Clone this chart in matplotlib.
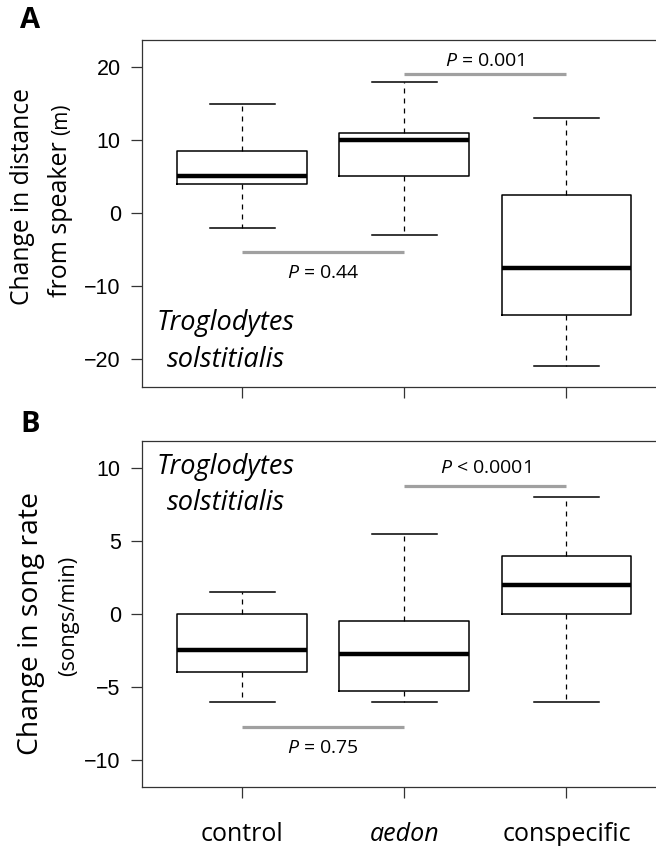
import matplotlib
matplotlib.use("Agg")
import matplotlib.pyplot as plt

# data
groups = ["control", "aedon", "conspecific"]

# panel A: change in distance from speaker (m)
dist_lo = [-2, -3, -21]
dist_q1 = [4, 5, -14]
dist_med = [5, 10, -7.5]
dist_q3 = [8.5, 11, 2.5]
dist_hi = [15, 18, 13]

# panel B: change in song rate (songs/min)
rate_lo = [-6, -6, -6]
rate_q1 = [-4, -5.3, 0]
rate_med = [-2.5, -2.75, 2]
rate_q3 = [0, -0.5, 4]
rate_hi = [1.5, 5.5, 8]

# significance bars: (x from, x to, y bar, y text, label)
sig_a = [(1, 2, -5.3, -8.2, "$P$ = 0.44"), (2, 3, 19.0, 20.8, "$P$ = 0.001")]
sig_b = [(1, 2, -7.74, -9.2, "$P$ = 0.75"), (2, 3, 8.77, 10.0, "$P$ < 0.0001")]

W, H = 656, 846
SANS = "Open Sans"
plt.rcParams["font.family"] = SANS
plt.rcParams["mathtext.fontset"] = "custom"
plt.rcParams["mathtext.it"] = "Open Sans:italic"
plt.rcParams["mathtext.rm"] = "Open Sans"

fig = plt.figure(figsize=(W / 100, H / 100), dpi=100)


def px_axes(left, top, right, bottom):
    return fig.add_axes([left / W, 1 - bottom / H, (right - left) / W, (bottom - top) / H])


def draw_panel(ax, lo, q1, med, q3, hi, ylim, yticks, sigs):
    stats = []
    for i in range(len(groups)):
        stats.append(dict(whislo=lo[i], q1=q1[i], med=med[i], q3=q3[i], whishi=hi[i], fliers=[]))
    ax.bxp(stats, positions=[1, 2, 3], widths=0.8, showfliers=False,
           boxprops=dict(color="black", linewidth=1.1),
           medianprops=dict(color="black", linewidth=3.2, solid_capstyle="butt"),
           whiskerprops=dict(color="black", linewidth=0.9, linestyle=(0, (4, 4))),
           capprops=dict(color="black", linewidth=1.1),
           capwidths=0.4)
    for x0, x1, yb, yt, lab in sigs:
        ax.plot([x0, x1], [yb, yb], color="#a0a0a0", linewidth=2.3, solid_capstyle="butt")
        ax.text((x0 + x1) / 2, yt, lab, ha="center", va="center", fontsize=14, family=SANS)
    ax.set_xlim(0.38, 3.62)
    ax.set_ylim(*ylim)
    ax.set_yticks(yticks)
    ax.set_yticklabels([f"{v:g}".replace("-", "\u2212") for v in yticks],
                       family="Liberation Sans", fontsize=15.5)
    ax.tick_params(axis="both", direction="out", length=8, width=0.9, color="#333333", pad=7)
    for s in ax.spines.values():
        s.set_linewidth(0.9)
        s.set_color("#333333")
    ax.set_xticks([1, 2, 3])


axA = px_axes(141.6, 40, 667, 387)
draw_panel(axA, dist_lo, dist_q1, dist_med, dist_q3, dist_hi,
           (-23.84, 23.7), [-20, -10, 0, 10, 20], sig_a)
axA.set_xticklabels([])
axA.text(0.90, -15.1, "Troglodytes", style="italic", fontsize=19.5, ha="center", va="center")
axA.text(0.90, -20.1, "solstitialis", style="italic", fontsize=19.5, ha="center", va="center")

axB = px_axes(141.6, 441, 667, 787)
draw_panel(axB, rate_lo, rate_q1, rate_med, rate_q3, rate_hi,
           (-11.85, 11.85), [-10, -5, 0, 5, 10], sig_b)
axB.set_xticklabels(groups, fontsize=18, family=SANS)
axB.get_xticklabels()[1].set_style("italic")
axB.tick_params(axis="x", pad=17)
axB.text(0.90, 10.07, "Troglodytes", style="italic", fontsize=19.5, ha="center", va="center")
axB.text(0.90, 7.6, "solstitialis", style="italic", fontsize=19.5, ha="center", va="center")

# panel letters
fig.text(30 / W, 1 - 21 / H, "A", fontsize=21, fontweight="bold", ha="center", va="center")
fig.text(30 / W, 1 - 424 / H, "B", fontsize=21, fontweight="bold", ha="center", va="center")

# y labels, with the unit part in a smaller size
renderer = fig.canvas.get_renderer()


def ylab(parts, x_base, y_center):
    texts = [fig.text(0, 0, s, fontsize=sz, rotation=90, rotation_mode="anchor",
                      ha="left", va="baseline") for s, sz in parts]
    lens = [t.get_window_extent(renderer).height for t in texts]
    y = (H - y_center) - sum(lens) / 2
    for t, L in zip(texts, lens):
        t.set_position((x_base / W, y / H))
        y += L


ylab([("Change in distance", 17.7)], 29, 197)
ylab([("from speaker ", 18), ("(m)", 15)], 67, 200)
ylab([("Change in song rate", 20.4)], 38, 623)
ylab([("(songs/min)", 15.8)], 74, 616)

fig.savefig("out.png", dpi=100)
